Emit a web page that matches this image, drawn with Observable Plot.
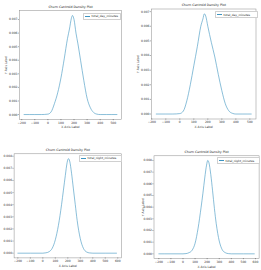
<!DOCTYPE html>
<html><head><meta charset="utf-8">
<script src="https://cdn.jsdelivr.net/npm/d3@7"></script>
<script src="https://cdn.jsdelivr.net/npm/@observablehq/plot@0.6"></script>
<style>
html,body{margin:0;padding:0;background:#fff;}
#root{position:relative;width:261px;height:270px;overflow:hidden;background:#fff;font-family:"DejaVu Sans",sans-serif;}
.panel{position:absolute;}
.legend{position:absolute;border:0.5px solid #d0d0d0;border-radius:0.6px;background:#fff;font-size:2.9px;display:flex;align-items:center;white-space:nowrap;box-sizing:border-box;padding:0 1px;color:#222;}
.legend .sw{display:inline-block;width:5px;height:0;border-top:0.6px solid #3d93c0;margin-right:1.6px;}
</style></head><body><div id="root"></div>
<script>
const title = "Churn Centroid Density Plot";
const xLabel = "X Axis Label";
const yLabel = "Y Axis Label";
const seriesNames = ["total_day_minutes", "total_day_minutes", "total_night_minutes", "total_night_minutes"];
const xTicksTop = [-200, -100, 0, 100, 200, 300, 400, 500];
const xTicksBottom = [-200, -100, 0, 100, 200, 300, 400, 500, 600];
const yTicksTop = [0, 0.001, 0.002, 0.003, 0.004, 0.005, 0.006, 0.007];
const yTicksBottom = [0, 0.001, 0.002, 0.003, 0.004, 0.005, 0.006, 0.007, 0.008];

const x1 = [-182, -100, -50, 0, 25, 50, 75, 100, 125, 150, 165, 180, 188, 200, 215, 230, 250, 275, 300, 325, 350, 375, 400, 450, 528];
const y1 = [0, 0, 0, 0.00003, 0.0002, 0.0008, 0.0016, 0.0027, 0.0041, 0.0056, 0.0063, 0.0071, 0.0073, 0.0070, 0.0060, 0.0052, 0.0040, 0.0025, 0.0012, 0.0005, 0.00015, 0.00003, 0, 0, 0];

const x2 = [-168, -100, -50, 0, 25, 50, 75, 100, 125, 150, 165, 175, 185, 200, 225, 250, 275, 300, 325, 350, 375, 400, 450, 510];
const y2 = [0, 0, 0, 0.00003, 0.0002, 0.0009, 0.0020, 0.0033, 0.0046, 0.0060, 0.0065, 0.00685, 0.0067, 0.0060, 0.0049, 0.0039, 0.0027, 0.0016, 0.0007, 0.00022, 0.00005, 0, 0, 0];

const x3 = [-200, -100, 0, 25, 50, 75, 100, 125, 150, 165, 180, 195, 205, 215, 230, 245, 260, 275, 300, 325, 350, 375, 400, 500, 590];
const y3 = [0, 0, 0, 0.00003, 0.00012, 0.0004, 0.0011, 0.0023, 0.0040, 0.0052, 0.0064, 0.0075, 0.0078, 0.0076, 0.0066, 0.0053, 0.0040, 0.0027, 0.0012, 0.0004, 0.0001, 0.00002, 0, 0, 0];

const x4 = [-200, -100, 0, 25, 50, 75, 100, 125, 150, 165, 180, 195, 205, 215, 230, 245, 260, 275, 300, 325, 350, 375, 400, 500, 590];
const y4 = [0, 0, 0, 0.00002, 0.0001, 0.0003, 0.0009, 0.0022, 0.0040, 0.0052, 0.0065, 0.0076, 0.0080, 0.0078, 0.0068, 0.0054, 0.0039, 0.0026, 0.0011, 0.00035, 0.0001, 0.00002, 0, 0, 0];

const lineColor = "#3d93c0";
const root = document.getElementById("root");

function panel(cfg) {
  const data = cfg.xs.map((x, i) => ({x, y: cfg.ys[i]}));
  const div = document.createElement("div");
  div.className = "panel";
  div.style.left = cfg.left + "px";
  div.style.top = cfg.top + "px";
  const marks = [
    Plot.frame({stroke: "#8a8a8a", strokeWidth: 0.5}),
    Plot.axisX({ticks: cfg.xTicks, tickFormat: d3.format("d"), tickSize: 1.2, tickPadding: 0.8, strokeWidth: 0.4,
      label: xLabel, labelAnchor: "center", labelArrow: "none", labelOffset: cfg.xLabOff}),
    Plot.axisY({ticks: cfg.yTicks, tickFormat: d3.format(".3f"), tickSize: 1.2, tickPadding: 0.8, strokeWidth: 0.4,
      label: cfg.showY ? yLabel : null, labelAnchor: "center", labelArrow: "none", labelOffset: cfg.yLabOff}),
    Plot.line(data, {x: "x", y: "y", stroke: lineColor, strokeWidth: 0.6, curve: "monotone-x"}),
    Plot.text([title], {frameAnchor: "top", lineAnchor: "bottom", dy: -cfg.titleGap, fontSize: 3.2, fill: "#222"})
  ];
  const chart = Plot.plot({
    width: cfg.width, height: cfg.height,
    marginLeft: cfg.m[0], marginTop: cfg.m[1], marginRight: cfg.m[2], marginBottom: cfg.m[3],
    style: {fontFamily: "DejaVu Sans, sans-serif", fontSize: "3px", background: "transparent", overflow: "visible", color: "#333"},
    x: {domain: cfg.xDomain},
    y: {domain: cfg.yDomain},
    marks
  });
  div.appendChild(chart);
  root.appendChild(div);
  const lg = document.createElement("div");
  lg.className = "legend";
  lg.style.left = cfg.lg[0] + "px";
  lg.style.top = cfg.lg[1] + "px";
  lg.style.width = cfg.lg[2] + "px";
  lg.style.height = cfg.lg[3] + "px";
  const sw = document.createElement("span"); sw.className = "sw";
  const tx = document.createElement("span"); tx.textContent = cfg.name;
  lg.appendChild(sw); lg.appendChild(tx);
  root.appendChild(lg);
}

panel({left: 0, top: 0, width: 130, height: 135, m: [19, 10, 9, 16],
  xDomain: [-217, 563], yDomain: [-0.000365, 0.007665], xTicks: xTicksTop, yTicks: yTicksTop,
  xs: x1, ys: y1, name: seriesNames[0], showY: true, xLabOff: 8.6, yLabOff: 15, titleGap: 2.6,
  lg: [83, 12.5, 38, 7]});
panel({left: 130, top: 0, width: 131, height: 135, m: [21, 8.5, 5.5, 16.5],
  xDomain: [-202, 544], yDomain: [-0.00034, 0.00718], xTicks: xTicksTop, yTicks: yTicksTop,
  xs: x2, ys: y2, name: seriesNames[1], showY: true, xLabOff: 8.6, yLabOff: 14.5, titleGap: 2.6,
  lg: [215, 11, 43, 7]});
panel({left: 0, top: 135, width: 130, height: 135, m: [13.6, 18.3, 9, 12.6],
  xDomain: [-230, 630], yDomain: [-0.00039, 0.0082], xTicks: xTicksBottom, yTicks: yTicksBottom,
  xs: x3, ys: y3, name: seriesNames[2], showY: false, xLabOff: 9.5, yLabOff: 15, titleGap: 3,
  lg: [79, 154.5, 43, 7]});
panel({left: 130, top: 135, width: 131, height: 135, m: [23.5, 20.3, 2.4, 12],
  xDomain: [-240, 630], yDomain: [-0.0004, 0.0084], xTicks: xTicksBottom, yTicks: yTicksBottom,
  xs: x4, ys: y4, name: seriesNames[3], showY: true, xLabOff: 9.5, yLabOff: 12.5, titleGap: 2.6,
  lg: [217, 157, 43, 7]});
</script></body></html>
